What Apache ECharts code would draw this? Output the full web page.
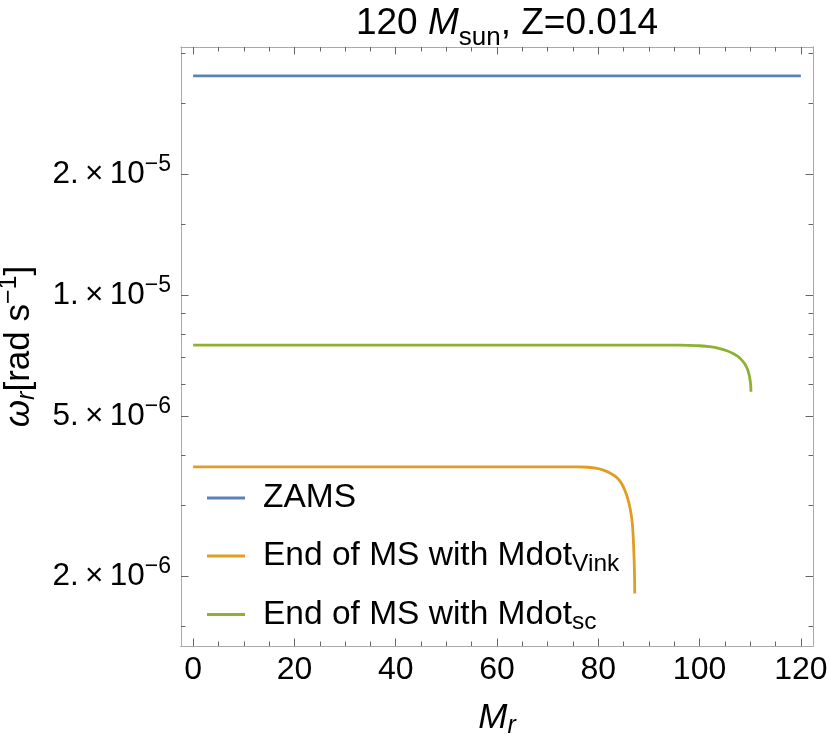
<!DOCTYPE html>
<html><head><meta charset="utf-8">
<script src="https://cdn.jsdelivr.net/npm/echarts@6/dist/echarts.min.js"></script>
<style>html,body{margin:0;padding:0;background:#fff}#c{width:830px;height:745px}</style>
</head><body><div id="c"></div>
<script>
// ---- data ----
const seriesNames = ['ZAMS', 'End of MS with Mdot_Vink', 'End of MS with Mdot_sc'];
const seriesColors = ['#5E81B5', '#E19C24', '#8FB032'];
const zamsX = [0, 120];
const zamsY = [3.51e-5, 3.51e-5];
const vinkX = [0, 20, 40, 60, 76, 78, 79.5, 81, 82.3, 83.5, 84.4, 85.2, 85.8, 86.3, 86.7, 86.9, 87.05, 87.15, 87.2];
const vinkY = [3.74e-6, 3.74e-6, 3.74e-6, 3.74e-6, 3.74e-6, 3.73e-6, 3.71e-6, 3.67e-6, 3.61e-6, 3.53e-6, 3.43e-6, 3.28e-6, 3.12e-6, 2.94e-6, 2.72e-6, 2.50e-6, 2.25e-6, 2.02e-6, 1.81e-6];
const scX = [0, 20, 40, 60, 80, 96, 98, 100, 102, 104, 105.4, 106.5, 107.5, 108.3, 109, 109.5, 109.8, 110.0, 110.1, 110.15];
const scY = [7.51e-6, 7.51e-6, 7.51e-6, 7.51e-6, 7.51e-6, 7.51e-6, 7.50e-6, 7.48e-6, 7.44e-6, 7.36e-6, 7.27e-6, 7.17e-6, 7.05e-6, 6.90e-6, 6.72e-6, 6.52e-6, 6.32e-6, 6.12e-6, 5.95e-6, 5.75e-6];
const xMajorTicks = [0, 20, 40, 60, 80, 100, 120];
const xMinorTicks = [5, 10, 15, 25, 30, 35, 45, 50, 55, 65, 70, 75, 85, 90, 95, 105, 110, 115];
const yMajorTicks = [2e-6, 5e-6, 1e-5, 2e-5];
const yMinorTicks = [1.5e-6, 3e-6, 4e-6, 6e-6, 7e-6, 8e-6, 9e-6, 1.5e-5, 3e-5, 4e-5];
const xRange = [-2.4, 122.4];
const yRange = [1.34e-6, 4.14e-5];

// ---- style ----
const FONT = '"Liberation Sans", Arial, sans-serif';
const frameColor = '#aaaaaa';
const tickColor = '#666666';
const MAJ = 7.5, MIN = 4.5;

function zip(a, b) { return a.map((v, i) => [v, b[i]]); }
function yLabel(v) {
  const e = Math.floor(Math.log10(v) + 1e-9);
  const m = Math.round(v / Math.pow(10, e));
  return '{b|' + m + '.\u2009×\u200910}{s|\u2212' + (-e) + '}';
}
function legendLabel(n) {
  const p = n.split('_');
  return p.length > 1 ? '{a|' + p[0] + '}{s|' + p[1] + '}' : '{a|' + n + '}';
}

function xAxisDef(pos, ticks, len, showLabel, extra) {
  return Object.assign({
    type: 'value', position: pos, min: xRange[0], max: xRange[1],
    axisLine: { show: true, onZero: false, lineStyle: { color: frameColor, width: 1 } },
    axisTick: { show: true, inside: true, length: len, customValues: ticks, lineStyle: { color: tickColor, width: 1 } },
    axisLabel: { show: showLabel, customValues: ticks, margin: 6, color: '#000', fontFamily: FONT, fontSize: 32, lineHeight: 36 },
    splitLine: { show: false }
  }, extra || {});
}
function yAxisDef(pos, ticks, len, showLabel, extra) {
  return Object.assign({
    type: 'log', logBase: 10, position: pos, min: yRange[0], max: yRange[1],
    axisLine: { show: true, onZero: false, lineStyle: { color: frameColor, width: 1 } },
    axisTick: { show: true, inside: true, length: len, customValues: ticks, lineStyle: { color: tickColor, width: 1 } },
    axisLabel: {
      show: showLabel, customValues: ticks, margin: 10, formatter: yLabel,
      rich: {
        b: { fontFamily: FONT, fontSize: 31.5, color: '#000', lineHeight: 36 },
        s: { fontFamily: FONT, fontSize: 23, color: '#000', lineHeight: 36, padding: [0, 0, 18, 0] }
      }
    },
    splitLine: { show: false }
  }, extra || {});
}

const chart = echarts.init(document.getElementById('c'), null, { renderer: 'canvas' });
chart.setOption({
  animation: false,
  backgroundColor: '#ffffff',
  title: {
    text: '{a|120 }{i|M}{s|sun}{a|, Z=0.014}',
    left: 502, top: 1, textAlign: 'center',
    textStyle: {
      fontWeight: 'normal',
      rich: {
        a: { fontFamily: FONT, fontSize: 37, fontWeight: 'normal', color: '#000', lineHeight: 36 },
        i: { fontFamily: FONT, fontSize: 37, fontWeight: 'normal', fontStyle: 'italic', color: '#000', lineHeight: 36 },
        s: { fontFamily: FONT, fontSize: 26, fontWeight: 'normal', color: '#000', lineHeight: 36, padding: [28, 0, 0, 0] }
      }
    }
  },
  grid: { left: 181, right: 17, top: 47, bottom: 99, outerBoundsMode: 'none', containLabel: false },
  xAxis: [
    xAxisDef('bottom', xMajorTicks, MAJ, true, {
      name: '{i|M}{r|r}', nameLocation: 'middle', nameGap: 52,
      nameTextStyle: { rich: {
        i: { fontFamily: FONT, fontSize: 35, fontStyle: 'italic', color: '#000', lineHeight: 40 },
        r: { fontFamily: FONT, fontSize: 25, fontStyle: 'italic', color: '#000', lineHeight: 40, padding: [16, 0, 0, 0] }
      } }
    }),
    xAxisDef('bottom', xMinorTicks, MIN, false),
    xAxisDef('top', xMajorTicks, MAJ, false),
    xAxisDef('top', xMinorTicks, MIN, false)
  ],
  yAxis: [
    yAxisDef('left', yMajorTicks, MAJ, true, {
      name: '{i|ω}{r|r}{a|[rad s}{p|\u22121}{a|]}', nameLocation: 'middle', nameGap: 133, nameRotate: 90,
      nameTextStyle: { rich: {
        i: { fontFamily: FONT, fontSize: 35, fontStyle: 'italic', color: '#000', lineHeight: 40 },
        r: { fontFamily: FONT, fontSize: 25, fontStyle: 'italic', color: '#000', lineHeight: 40, padding: [16, 0, 0, 0] },
        a: { fontFamily: FONT, fontSize: 35, color: '#000', lineHeight: 40 },
        p: { fontFamily: FONT, fontSize: 25, color: '#000', lineHeight: 40, padding: [0, 0, 20, 0] }
      } }
    }),
    yAxisDef('left', yMinorTicks, MIN, false),
    yAxisDef('right', yMajorTicks, MAJ, false),
    yAxisDef('right', yMinorTicks, MIN, false)
  ],
  legend: {
    orient: 'vertical', left: 207, top: 478, padding: 0, itemGap: 17.5,
    itemWidth: 38, itemHeight: 3, icon: 'rect', selectedMode: false,
    data: seriesNames, formatter: legendLabel,
    textStyle: {
      padding: [0, 0, 0, 13], lineHeight: 40,
      rich: {
        a: { fontFamily: FONT, fontSize: 33.5, color: '#000', lineHeight: 40 },
        s: { fontFamily: FONT, fontSize: 24.5, color: '#000', lineHeight: 40, padding: [16, 0, 0, 0] }
      }
    }
  },
  series: [
    { name: seriesNames[0], type: 'line', data: zip(zamsX, zamsY), xAxisIndex: 0, yAxisIndex: 0,
      showSymbol: false, color: seriesColors[0], lineStyle: { width: 2.8, color: seriesColors[0] } },
    { name: seriesNames[1], type: 'line', data: zip(vinkX, vinkY), xAxisIndex: 0, yAxisIndex: 0,
      showSymbol: false, smooth: 0.3, color: seriesColors[1], lineStyle: { width: 2.8, color: seriesColors[1] } },
    { name: seriesNames[2], type: 'line', data: zip(scX, scY), xAxisIndex: 0, yAxisIndex: 0,
      showSymbol: false, smooth: 0.3, color: seriesColors[2], lineStyle: { width: 2.8, color: seriesColors[2] } }
  ]
});
</script>
</body></html>
